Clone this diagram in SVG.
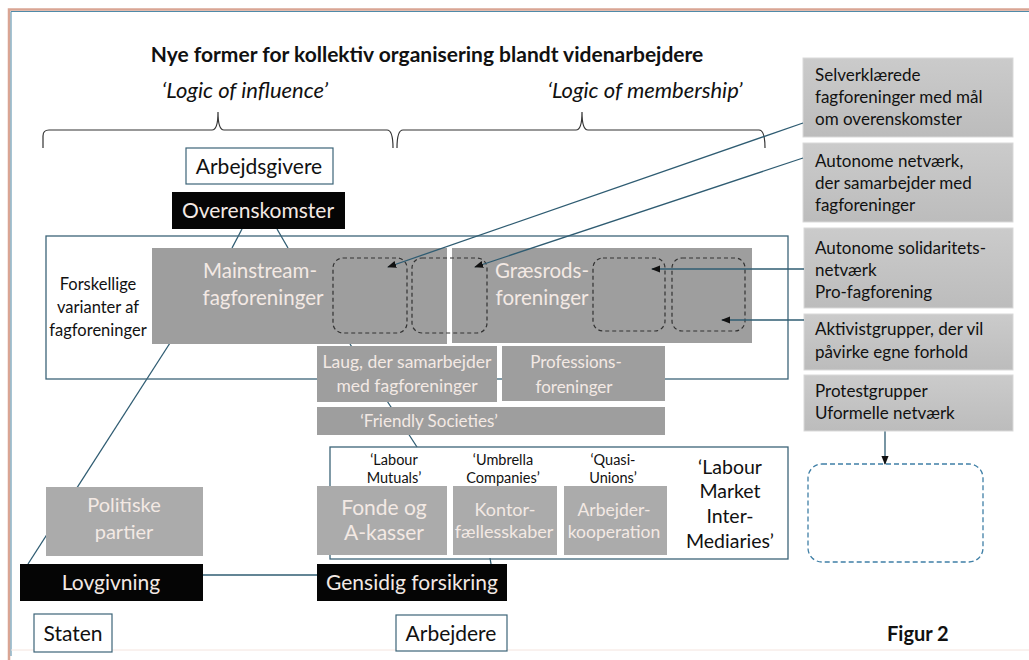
<svg xmlns="http://www.w3.org/2000/svg" width="1029" height="660" viewBox="0 0 1029 660">
<defs>
<style>
text{font-family:Lato,"Open Sans","Liberation Sans",sans-serif;}
.t{fill:#111;}
.w{fill:#f3e9e4;}
.gb{fill:#9e9e9e;}
.lb{fill:#ababab;}
.rb{fill:url(#rg);stroke:#d9d9d9;stroke-width:1;}
.blk{fill:#050505;}
.wb{fill:#fff;stroke:#3c6478;stroke-width:1.2;}
.ln{stroke:#2f5c72;stroke-width:1.3;fill:none;}
.dash{fill:none;stroke:#333;stroke-width:1.2;stroke-dasharray:4 3;}
</style>
<linearGradient id="rg" x1="0" y1="0" x2="0" y2="1">
<stop offset="0" stop-color="#cbcbcb"/>
<stop offset="1" stop-color="#bcbcbc"/>
</linearGradient>
<marker id="ah" viewBox="0 0 10 10" refX="9" refY="5" markerWidth="7" markerHeight="7" orient="auto">
<path d="M0,1 L10,5 L0,9 z" fill="#111"/>
</marker>
</defs>
<rect width="1029" height="660" fill="#fff"/>
<!-- frame -->
<path d="M9,660 V9.5 H1029" fill="none" stroke="#d9a594" stroke-width="2.5"/>
<path d="M11,656 V11.5 H1029" fill="none" stroke="#4f8aa8" stroke-width="1"/>
<line x1="11" y1="650" x2="1029" y2="650" stroke="#f4e4de" stroke-width="1"/>

<text x="427" y="62" text-anchor="middle" font-size="21" font-weight="bold" class="t">Nye former for kollektiv organisering blandt videnarbejdere</text>
<text x="245" y="98" text-anchor="middle" font-size="22" font-style="italic" class="t">‘Logic of influence’</text>
<text x="645" y="98" text-anchor="middle" font-size="22" font-style="italic" class="t">‘Logic of membership’</text>

<!-- braces -->
<g id="braces" fill="none" stroke="#333" stroke-width="1.2">
<path d="M43,148 V136 Q43,130 49,130 H212 Q218,130 218,112 Q218,130 224,130 H387 Q393,130 393,148"/>
<path d="M397,148 Q397,130 403,130 H576 Q582,130 582,112 Q582,130 588,130 H759 Q765,130 765,148"/>
</g>

<!-- connectors drawn behind boxes -->
<g id="connectors">
<line class="ln" x1="242" y1="229" x2="232" y2="248"/>
<line class="ln" x1="277" y1="229" x2="288" y2="248"/>
<line class="ln" x1="170" y1="343" x2="28" y2="564"/>
<line class="ln" x1="350" y1="344" x2="417" y2="447"/>
<line class="ln" x1="203" y1="575" x2="317" y2="575"/>
<line class="ln" x1="490" y1="558" x2="491" y2="564"/>
<line class="ln" x1="885" y1="431" x2="885" y2="464" marker-end="url(#ah)"/>
</g>

<g id="arbejdsgivere"><rect class="wb" x="186" y="148" width="147" height="36"/>
<text x="259" y="174" text-anchor="middle" font-size="21" class="t">Arbejdsgivere</text></g>
<g id="overenskomster"><rect class="blk" x="172" y="192" width="173" height="37"/>
<text x="258" y="218" text-anchor="middle" font-size="21" class="w">Overenskomster</text></g>

<g id="varianter"><rect x="46" y="236" width="742" height="143" fill="none" stroke="#3c6478" stroke-width="1.3"/>
<text text-anchor="middle" font-size="16.5" class="t"><tspan x="98" y="290">Forskellige</tspan><tspan x="98" y="313">varianter af</tspan><tspan x="98" y="336">fagforeninger</tspan></text></g>

<g id="mainstream"><rect class="gb" x="152" y="248" width="295" height="96"/>
<text text-anchor="middle" font-size="20.5" class="w"><tspan x="260" y="278">Mainstream-</tspan><tspan x="263" y="305">fagforeninger</tspan></text></g>
<g id="graesrods"><rect class="gb" x="452" y="248" width="300" height="95"/>
<text text-anchor="middle" font-size="20.5" class="w"><tspan x="542" y="278">Græsrods-</tspan><tspan x="542" y="305">foreninger</tspan></text></g>

<g id="sub1"><rect class="dash" x="333" y="258" width="74" height="75" rx="10"/></g>
<g id="sub2"><rect class="dash" x="412" y="258" width="75" height="75" rx="10"/></g>
<g id="sub3"><rect class="dash" x="593" y="258" width="72" height="73" rx="10"/></g>
<g id="sub4"><rect class="dash" x="672" y="258" width="73" height="73" rx="10"/></g>

<g id="laug"><rect class="gb" x="317" y="346" width="180" height="56"/>
<text text-anchor="middle" font-size="17.5" class="w"><tspan x="407" y="368">Laug, der samarbejder</tspan><tspan x="407" y="392">med fagforeninger</tspan></text></g>
<g id="professions"><rect class="gb" x="502" y="346" width="163" height="55"/>
<text text-anchor="middle" font-size="17" class="w"><tspan x="576" y="368">Professions-</tspan><tspan x="574" y="393">foreninger</tspan></text></g>
<g id="friendly"><rect class="gb" x="317" y="407" width="348" height="28"/>
<text x="429" y="427" text-anchor="middle" font-size="17" class="w">‘Friendly Societies’</text></g>

<g id="selverklaerede"><rect class="rb" x="803" y="58" width="210" height="79"/>
<text font-size="17" class="t"><tspan x="815" y="81">Selverklærede</tspan><tspan x="815" y="103">fagforeninger med mål</tspan><tspan x="815" y="125">om overenskomster</tspan></text></g>
<g id="autonome-netvaerk"><rect class="rb" x="803" y="143" width="210" height="79"/>
<text font-size="17" class="t"><tspan x="815" y="167">Autonome netværk,</tspan><tspan x="815" y="189">der samarbejder med</tspan><tspan x="815" y="211">fagforeninger</tspan></text></g>
<g id="solidaritet"><rect class="rb" x="804" y="228" width="209" height="80"/>
<text font-size="17" class="t"><tspan x="815" y="254">Autonome solidaritets-</tspan><tspan x="815" y="276">netværk</tspan><tspan x="815" y="298">Pro-fagforening</tspan></text></g>
<g id="aktivist"><rect class="rb" x="804" y="314" width="209" height="56"/>
<text font-size="17" class="t"><tspan x="815" y="335">Aktivistgrupper, der vil</tspan><tspan x="815" y="358">påvirke egne forhold</tspan></text></g>
<g id="protest"><rect class="rb" x="804" y="375" width="209" height="56"/>
<text font-size="17" class="t"><tspan x="815" y="397">Protestgrupper</tspan><tspan x="815" y="419">Uformelle netværk</tspan></text></g>
<g id="tom"><rect x="808" y="464" width="175" height="98" rx="14" fill="none" stroke="#3f7fa6" stroke-width="1.3" stroke-dasharray="5 3"/></g>

<g id="politiske"><rect class="lb" x="46" y="487" width="157" height="69"/>
<text text-anchor="middle" font-size="20" class="w"><tspan x="124" y="512">Politiske</tspan><tspan x="124" y="539">partier</tspan></text></g>
<g id="lovgivning"><rect class="blk" x="20" y="564" width="183" height="37"/>
<text x="111" y="590" text-anchor="middle" font-size="21" class="w">Lovgivning</text></g>
<g id="staten"><rect class="wb" x="34" y="614" width="78" height="38"/>
<text x="73" y="641" text-anchor="middle" font-size="21" class="t">Staten</text></g>

<g id="labour-market"><rect x="330" y="447" width="458" height="112" fill="none" stroke="#3c6478" stroke-width="1.3"/>
<text text-anchor="middle" font-size="19.5" class="t"><tspan x="730" y="474">‘Labour</tspan><tspan x="730" y="498">Market</tspan><tspan x="730" y="523">Inter-</tspan><tspan x="730" y="548">Mediaries’</tspan></text></g>
<g id="fonde"><rect class="lb" x="317" y="486" width="130" height="69"/>
<text text-anchor="middle" font-size="14.5" class="t"><tspan x="394" y="465">‘Labour</tspan><tspan x="394" y="483">Mutuals’</tspan></text>
<text text-anchor="middle" font-size="21" class="w"><tspan x="384" y="515">Fonde og</tspan><tspan x="384" y="540">A-kasser</tspan></text></g>
<g id="kontor"><rect class="lb" x="453" y="486" width="104" height="69"/>
<text text-anchor="middle" font-size="14.5" class="t"><tspan x="503" y="465">‘Umbrella</tspan><tspan x="503" y="483">Companies’</tspan></text>
<text text-anchor="middle" font-size="18" class="w"><tspan x="505" y="516">Kontor-</tspan><tspan x="504" y="538">fællesskaber</tspan></text></g>
<g id="kooperation"><rect class="lb" x="564" y="486" width="103" height="69"/>
<text text-anchor="middle" font-size="14.5" class="t"><tspan x="613" y="465">‘Quasi-</tspan><tspan x="613" y="483">Unions’</tspan></text>
<text text-anchor="middle" font-size="17.5" class="w"><tspan x="614" y="516">Arbejder-</tspan><tspan x="614" y="538">kooperation</tspan></text></g>

<g id="gensidig"><rect class="blk" x="317" y="564" width="190" height="37"/>
<text x="412" y="590" text-anchor="middle" font-size="21" class="w">Gensidig forsikring</text></g>
<g id="arbejdere"><rect class="wb" x="396" y="615" width="111" height="36"/>
<text x="451" y="641" text-anchor="middle" font-size="21" class="t">Arbejdere</text></g>

<!-- arrow connectors drawn on top -->
<g id="arrows">
<line class="ln" x1="803" y1="123" x2="388" y2="267" marker-end="url(#ah)"/>
<line class="ln" x1="803" y1="158" x2="475" y2="267" marker-end="url(#ah)"/>
<line class="ln" x1="804" y1="269" x2="652" y2="269" marker-end="url(#ah)"/>
<line class="ln" x1="804" y1="320" x2="722" y2="320" marker-end="url(#ah)"/>
</g>

<text x="887" y="641" font-size="20" font-weight="bold" class="t">Figur 2</text>
</svg>
